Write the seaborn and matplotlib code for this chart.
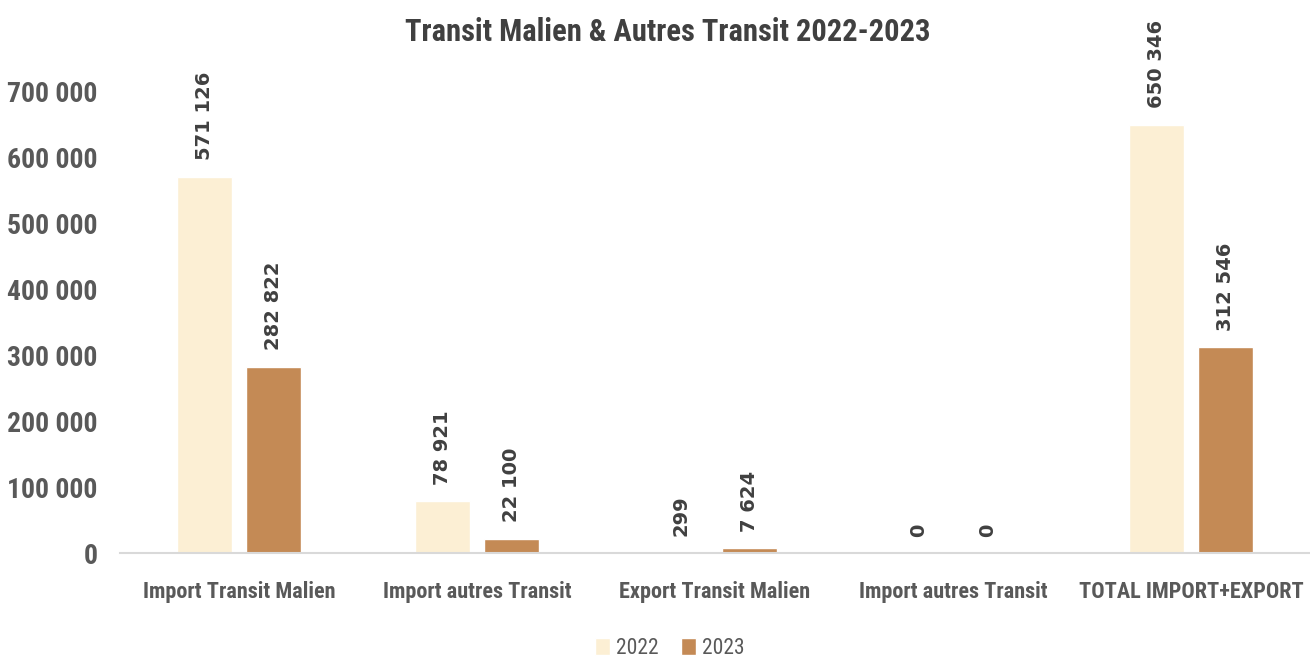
import matplotlib
matplotlib.use("Agg")
import matplotlib.pyplot as plt
import seaborn as sns
import pandas as pd
from matplotlib import font_manager

# data
categories = ["Import Transit Malien", "Import autres Transit", "Export Transit Malien",
              "Import autres Transit", "TOTAL IMPORT+EXPORT"]
years = ["2022", "2023"]
values_2022 = [571126, 78921, 299, 0, 650346]
values_2023 = [282822, 22100, 7624, 0, 312546]
y_ticks = [0, 100000, 200000, 300000, 400000, 500000, 600000, 700000]

colors = {"2022": "#FCEFD4", "2023": "#C48A55"}

installed = {f.name for f in font_manager.fontManager.ttflist}
main_font = "Liberation Sans"
for cand in ["Liberation Sans Narrow", "Roboto Condensed", "Open Sans Condensed"]:
    if cand in installed:
        main_font = cand
        break
narrow = main_font != "Liberation Sans"

sns.set_style("white")
plt.rcParams["font.family"] = [main_font, "DejaVu Sans"]

rows = []
for i, cat in enumerate(categories):
    rows.append({"pos": i, "year": "2022", "value": values_2022[i]})
    rows.append({"pos": i, "year": "2023", "value": values_2023[i]})
df = pd.DataFrame(rows)

fig = plt.figure(figsize=(13.1, 6.57), dpi=100)
ax = fig.add_axes([0.0916, 0.158, 0.9084, 0.702])

sns.barplot(data=df, x="pos", y="value", hue="year", hue_order=years, palette=colors,
            width=0.575, gap=0.2, ax=ax, saturation=1, errorbar=None)

def fmt(v):
    return f"{int(v):,}".replace(",", " ")

for cont in ax.containers:
    for bar in cont:
        h = bar.get_height()
        ax.annotate(fmt(h), (bar.get_x() + bar.get_width() / 2, h),
                    xytext=(0, 12), textcoords="offset points",
                    rotation=90, ha="center", va="bottom",
                    fontsize=14, fontweight="bold", color="#404040",
                    family="DejaVu Sans", annotation_clip=False)

ysize = 20 if narrow else 17
xsize = 16 if narrow else 14
tsize = 22 if narrow else 19.5

ax.set_ylim(0, 700000)
ax.set_xlim(-0.5, 4.5)
ax.set_yticks(y_ticks)
ax.set_yticklabels([fmt(t) for t in y_ticks], fontsize=ysize, fontweight="bold", color="#595959")
ax.set_xticks(range(len(categories)))
ax.set_xticklabels(categories, fontsize=xsize, fontweight="bold", color="#595959")
ax.tick_params(axis="y", length=0, pad=16)
ax.tick_params(axis="x", length=0, pad=20)
ax.set_xlabel("")
ax.set_ylabel("")
for s in ["top", "right", "left"]:
    ax.spines[s].set_visible(False)
ax.spines["bottom"].set_color("#D9D9D9")
ax.spines["bottom"].set_linewidth(1.5)

leg = ax.legend(loc="center", bbox_to_anchor=(0.462, -0.206), ncol=2, frameon=False,
                handlelength=0.7, handleheight=0.9, handletextpad=0.3, columnspacing=1.0,
                prop={"size": 15.5})
for t in leg.get_texts():
    t.set_color("#595959")

fig.text(668 / 1310, 1 - 32 / 657, "Transit Malien & Autres Transit 2022-2023",
         ha="center", va="center", fontsize=tsize, fontweight="bold", color="#404040")

fig.savefig("out.png", dpi=100)
